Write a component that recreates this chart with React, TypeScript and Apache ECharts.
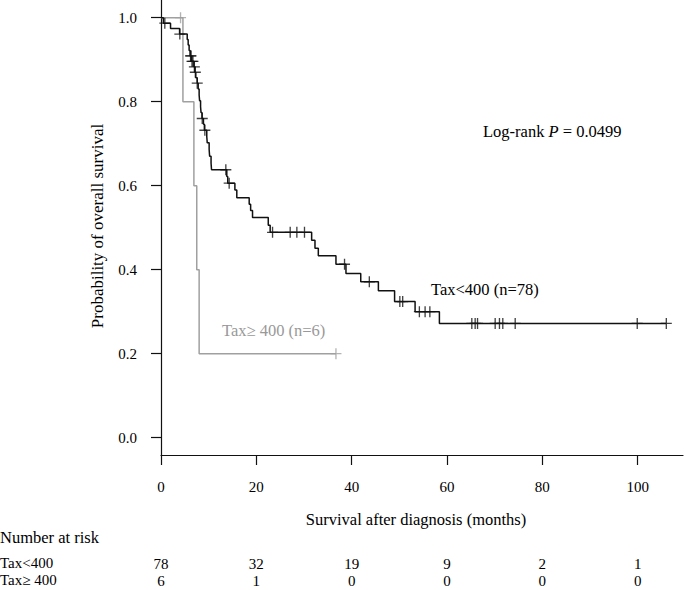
import React, { useEffect, useRef } from "react";
import * as echarts from "echarts";

const xTicks = [0, 20, 40, 60, 80, 100];
const yTicks = [0, 0.2, 0.4, 0.6, 0.8, 1.0];

// Tax<400 (n=78): event times (months) and survival after each drop
const lowTimes = [0.5, 2.0, 3.9, 5.5, 5.7, 5.9, 6.1, 6.4, 6.9, 7.1, 7.3, 7.6, 7.8, 8.0, 8.1, 8.3, 8.4, 8.6, 8.9, 9.1, 9.6, 9.7, 10.1, 10.2, 10.5, 10.6, 13.8, 14.0, 15.5, 15.9, 18.5, 18.8, 19.2, 22.5, 22.9, 31.6, 32.3, 33.0, 36.7, 38.8, 41.9, 45.6, 49.0, 53.3, 58.4];
const lowSurv = [0.987, 0.974, 0.961, 0.948, 0.935, 0.922, 0.909, 0.896, 0.883, 0.870, 0.857, 0.844, 0.830, 0.816, 0.802, 0.788, 0.774, 0.760, 0.746, 0.732, 0.717, 0.702, 0.686, 0.670, 0.654, 0.638, 0.622, 0.606, 0.590, 0.571, 0.556, 0.541, 0.524, 0.506, 0.489, 0.470, 0.451, 0.433, 0.413, 0.391, 0.371, 0.350, 0.324, 0.300, 0.272];
const lowCensor = [0.8, 3.95, 6.2, 6.3, 6.5, 6.7, 7.0, 7.2, 7.6, 8.65, 9.2, 13.6, 14.3, 23.4, 27.1, 28.5, 30.1, 38.5, 43.7, 50.1, 50.7, 54.2, 55.4, 56.4, 65.2, 65.9, 66.4, 70.1, 71.0, 71.7, 74.3, 99.9, 106];
const lowEnd = 106;

// Tax>=400 (n=6)
const highTimes = [4.6, 6.9, 7.5, 8.0];
const highSurv = [0.8, 0.6, 0.4, 0.2];
const highCensor = [4.1, 36.7];
const highEnd = 36.7;

const riskLabels = ["Tax<400", "Tax\u2265 400"];
const riskLow = [78, 32, 19, 9, 2, 1];
const riskHigh = [6, 1, 0, 0, 0, 0];

const FONT = "'Liberation Serif', 'Times New Roman', serif";
const FS = 16.5;
const TFS = 15;

function stepPoints(times: number[], surv: number[], end: number) {
  const pts: number[][] = [[0, 1]];
  let prev = 1;
  times.forEach((t, i) => {
    pts.push([t, prev]);
    pts.push([t, surv[i]]);
    prev = surv[i];
  });
  pts.push([end, prev]);
  return pts;
}

function levelAt(times: number[], surv: number[], t: number) {
  let s = 1;
  times.forEach((tt, i) => {
    if (tt <= t) s = surv[i];
  });
  return s;
}

const CROSS = "path://M4.4,0H5.6V10H4.4Z M0,4.4H10V5.6H0Z";

export default function App() {
  const ref = useRef<HTMLDivElement>(null);
  useEffect(() => {
    if (!ref.current) return;
    const chart = echarts.init(ref.current, null, { renderer: "svg" });
    const black = "#111";
    const gray = "#a0a0a0";
    chart.setOption({
      animation: false,
      grid: { left: 161, top: 0, right: 2, bottom: 135 },
      xAxis: {
        type: "value",
        min: 0,
        max: 109.5,
        axisLine: { show: true, onZero: false, lineStyle: { color: black, width: 1.2 } },
        axisTick: { show: true, customValues: xTicks, length: 10, lineStyle: { color: black, width: 1.2 } },
        axisLabel: { customValues: xTicks, margin: 24, fontSize: 15, fontFamily: FONT, color: "#000" },
        splitLine: { show: false },
      },
      yAxis: {
        type: "value",
        min: -0.0412,
        max: 1.0421,
        axisLine: { show: true, onZero: false, lineStyle: { color: black, width: 1.2 } },
        axisTick: { show: true, customValues: yTicks, length: 10, lineStyle: { color: black, width: 1.2 } },
        axisLabel: {
          customValues: yTicks,
          margin: 24,
          fontSize: 15,
          fontFamily: FONT,
          color: "#000",
          formatter: (v: number) => v.toFixed(1),
        },
        splitLine: { show: false },
      },
      series: [
        {
          type: "line",
          data: stepPoints(highTimes, highSurv, highEnd),
          symbol: "none",
          lineStyle: { color: gray, width: 1.5 },
          z: 2,
        },
        {
          type: "line",
          data: stepPoints(lowTimes, lowSurv, lowEnd),
          symbol: "none",
          lineStyle: { color: black, width: 1.5 },
          z: 3,
        },
        {
          type: "scatter",
          data: highCensor.map((t) => [t, levelAt(highTimes, highSurv, t)]),
          symbol: CROSS,
          symbolSize: 11,
          itemStyle: { color: gray },
          z: 4,
        },
        {
          type: "scatter",
          data: lowCensor.map((t) => [t, levelAt(lowTimes, lowSurv, t)]),
          symbol: CROSS,
          symbolSize: 11,
          itemStyle: { color: black },
          z: 5,
        },
      ],
    });

    const xs = xTicks.map((v) => chart.convertToPixel({ xAxisIndex: 0 }, v) as number);
    const txt = (x: number, y: number, text: string, opts: any = {}) => ({
      type: "text",
      x,
      y,
      style: {
        text,
        fontSize: FS,
        fontFamily: FONT,
        fill: "#000",
        textAlign: "left",
        textVerticalAlign: "middle",
        ...opts,
      },
    });
    const graphics: any[] = [
      txt(416, 519, "Survival after diagnosis (months)", { textAlign: "center" }),
      {
        type: "text",
        x: 97,
        y: 226,
        rotation: Math.PI / 2,
        style: {
          text: "Probability of overall survival",
          fontSize: 17,
          fontFamily: FONT,
          fill: "#000",
          textAlign: "center",
          textVerticalAlign: "middle",
        },
      },
      {
        type: "text",
        x: 483,
        y: 131,
        style: {
          text: "{a|Log-rank }{b|P}{a| = 0.0499}",
          fontSize: FS,
          fontFamily: FONT,
          fill: "#000",
          textVerticalAlign: "middle",
          rich: {
            a: { fontSize: FS, fontFamily: FONT, fill: "#000" },
            b: { fontSize: FS, fontFamily: FONT, fill: "#000", fontStyle: "italic" },
          },
        },
      },
      txt(431, 289, "Tax<400 (n=78)"),
      txt(222, 330, "Tax\u2265 400 (n=6)", { fill: "#999" }),
      txt(0, 537, "Number at risk"),
      txt(0, 563, riskLabels[0], { fontSize: TFS }),
      txt(0, 580, riskLabels[1], { fontSize: TFS }),
    ];
    xs.forEach((x, i) => {
      graphics.push(txt(x, 564, String(riskLow[i]), { textAlign: "center", fontSize: TFS }));
      graphics.push(txt(x, 581, String(riskHigh[i]), { textAlign: "center", fontSize: TFS }));
    });
    chart.setOption({ graphic: graphics });

    return () => chart.dispose();
  }, []);
  return (
    <div
      ref={ref}
      style={{ position: "fixed", left: 0, top: 0, width: 685, height: 590, background: "#fff" }}
    />
  );
}
